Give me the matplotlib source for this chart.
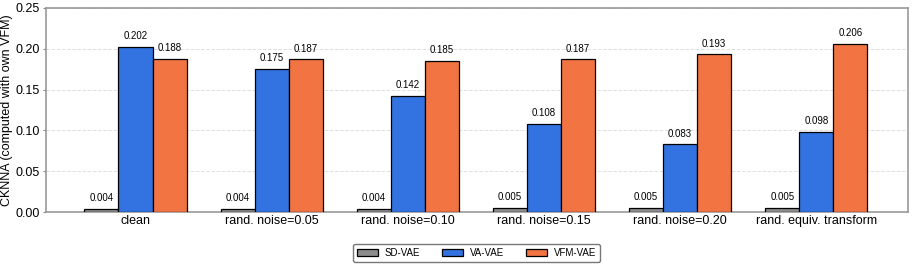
import numpy as np
import matplotlib.pyplot as plt

plt.rcParams['font.family'] = ['Liberation Sans', 'DejaVu Sans']

conditions = ['clean', 'rand. noise=0.05', 'rand. noise=0.10', 'rand. noise=0.15',
              'rand. noise=0.20', 'rand. equiv. transform']
sd_vae = [0.004, 0.004, 0.004, 0.005, 0.005, 0.005]
va_vae = [0.202, 0.175, 0.142, 0.108, 0.083, 0.098]
vfm_vae = [0.188, 0.187, 0.185, 0.187, 0.193, 0.206]

series = [('SD-VAE', sd_vae, '#8c8c8c'),
          ('VA-VAE', va_vae, '#3373e1'),
          ('VFM-VAE', vfm_vae, '#f17442')]

fig = plt.figure(figsize=(9.13, 2.66), dpi=100)
ax = fig.add_axes([0.050, 0.203, 0.944, 0.767])

x = np.arange(len(conditions))
width = 0.25
for i, (name, vals, color) in enumerate(series):
    bars = ax.bar(x + (i - 1) * width, vals, width, label=name, color=color,
                  edgecolor='black', linewidth=0.9, zorder=3)
    for b, v in zip(bars, vals):
        ax.text(b.get_x() + b.get_width() / 2, v + 0.007, f'{v:.3f}',
                ha='center', va='bottom', fontsize=7)

ax.set_xlim(-0.66, 5.67)
ax.set_ylim(0, 0.25)
ticks = np.arange(0, 0.26, 0.05)
ax.set_yticks(ticks)
ax.set_yticklabels([f'{t:.2f}' for t in ticks])
ax.set_xticks(x)
ax.set_xticklabels(conditions)
ax.tick_params(axis='both', labelsize=9, length=0, pad=2)
ax.tick_params(axis='y', length=2.5, color='#888888', pad=1.5)
ax.set_ylabel('CKNNA (computed with own VFM)', fontsize=9, labelpad=2)
ax.yaxis.grid(True, linestyle='--', color='#e0e0e0', linewidth=0.7, zorder=0)
for s in ax.spines.values():
    s.set_color('#999999')
    s.set_linewidth(1.2)

# legend centred under the axes, not the figure
ax.legend(loc='center', bbox_to_anchor=(0.5, -0.2), ncol=3, fontsize=7,
          frameon=True, edgecolor='#555555', handlelength=2.2, handletextpad=0.7,
          columnspacing=2.2, handleheight=0.7)

fig.savefig('out.png', dpi=100)
